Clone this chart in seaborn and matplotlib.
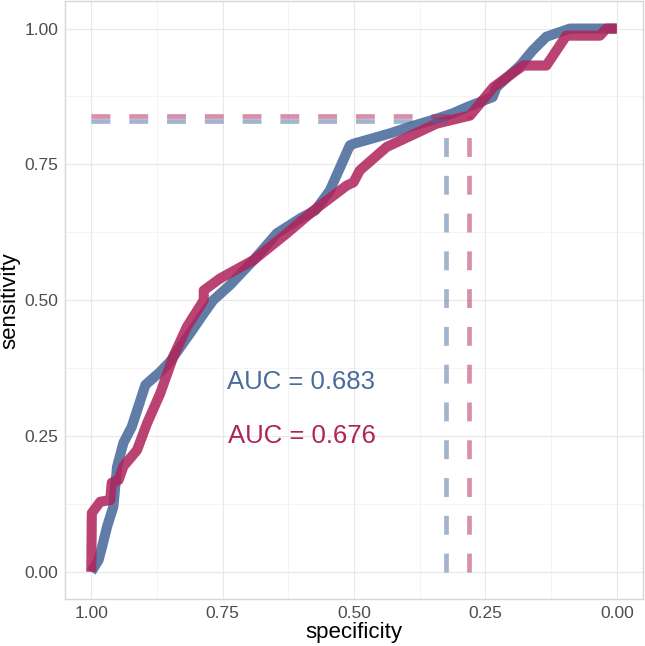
import matplotlib
matplotlib.use("Agg")
import matplotlib.pyplot as plt
import seaborn as sns
import pandas as pd

# ROC curve points (specificity, sensitivity)
spec_a = [1.000, 0.986, 0.980, 0.970, 0.958, 0.951, 0.939, 0.923, 0.897, 0.869, 0.850,
          0.812, 0.785, 0.768, 0.736, 0.690, 0.647, 0.600, 0.574, 0.546, 0.508, 0.501,
          0.479, 0.432, 0.394, 0.343, 0.312, 0.286, 0.260, 0.236, 0.229, 0.184, 0.160,
          0.134, 0.089, 0.000]
sens_a = [0.000, 0.022, 0.044, 0.083, 0.120, 0.193, 0.237, 0.267, 0.344, 0.368, 0.387,
          0.439, 0.477, 0.500, 0.528, 0.575, 0.623, 0.652, 0.665, 0.702, 0.785, 0.788,
          0.794, 0.807, 0.819, 0.834, 0.844, 0.855, 0.865, 0.874, 0.892, 0.932, 0.960,
          0.985, 1.000, 1.000]
spec_b = [1.000, 0.999, 0.983, 0.964, 0.961, 0.948, 0.939, 0.913, 0.894, 0.869, 0.844,
          0.818, 0.786, 0.786, 0.755, 0.691, 0.628, 0.577, 0.514, 0.501, 0.489, 0.438,
          0.343, 0.279, 0.235, 0.178, 0.134, 0.096, 0.032, 0.020, 0.000]
sens_b = [0.000, 0.108, 0.129, 0.132, 0.164, 0.169, 0.194, 0.224, 0.273, 0.328, 0.396,
          0.451, 0.500, 0.518, 0.540, 0.574, 0.623, 0.665, 0.711, 0.717, 0.739, 0.782,
          0.825, 0.840, 0.892, 0.932, 0.932, 0.987, 0.987, 1.000, 1.000]

# best thresholds (specificity, sensitivity) and AUC labels
best_a = (0.325, 0.830)
best_b = (0.282, 0.839)
auc_labels = ["AUC = 0.683", "AUC = 0.676"]

col_a = "#4A6B9C"
col_b = "#B0225A"

df_a = pd.DataFrame({"specificity": spec_a, "sensitivity": sens_a})
df_b = pd.DataFrame({"specificity": spec_b, "sensitivity": sens_b})

sns.set_style("whitegrid")
plt.rcParams['font.family'] = ['Liberation Sans', 'DejaVu Sans']
fig = plt.figure(figsize=(6.45, 6.46), dpi=100)
ax = fig.add_axes([0.1008, 0.0728, 0.8962, 0.925])

sns.lineplot(data=df_a, x="specificity", y="sensitivity", sort=False, estimator=None,
             color=col_a, linewidth=7.3, alpha=0.88, ax=ax, solid_capstyle="butt")
sns.lineplot(data=df_b, x="specificity", y="sensitivity", sort=False, estimator=None,
             color=col_b, linewidth=7.3, alpha=0.85, ax=ax, solid_capstyle="butt")

# dashed guide lines to the chosen thresholds
for (sx, sy), c in [(best_a, col_a), (best_b, col_b)]:
    ax.plot([1.0, sx], [sy, sy], color=c, alpha=0.5, linewidth=3.4,
            dashes=(4, 4), dash_capstyle="butt")
    ax.plot([sx, sx], [0.0, sy], color=c, alpha=0.5, linewidth=3.4,
            dashes=(4, 4), dash_capstyle="butt")

ax.text(0.6, 0.35, auc_labels[0], color=col_a, fontsize=18.5, ha="center", va="center")
ax.text(0.6, 0.25, auc_labels[1], color=col_b, fontsize=18.5, ha="center", va="center")

ax.set_xlim(1.05, -0.05)
ax.set_ylim(-0.05, 1.05)
ticks = [0, 0.25, 0.5, 0.75, 1.0]
ax.set_xticks(ticks)
ax.set_yticks(ticks)
ax.set_xticklabels(["0.00", "0.25", "0.50", "0.75", "1.00"])
ax.set_yticklabels(["0.00", "0.25", "0.50", "0.75", "1.00"])
ax.set_xticks([0.125, 0.375, 0.625, 0.875], minor=True)
ax.set_yticks([0.125, 0.375, 0.625, 0.875], minor=True)
ax.grid(which="major", color="#E8E8E8", linewidth=0.8)
ax.grid(which="minor", color="#F2F2F2", linewidth=0.6)
ax.tick_params(axis="both", which="major", labelsize=12.5, labelcolor="#4D4D4D",
               length=3, width=0.8, color="#CCCCCC", pad=2)
ax.tick_params(axis="both", which="minor", length=0)
for s in ax.spines.values():
    s.set_color("#D6D6D6")
    s.set_linewidth(1.0)
ax.set_xlabel("specificity", fontsize=16, color="black", labelpad=1)
ax.set_ylabel("sensitivity", fontsize=16, color="black", labelpad=3)

fig.savefig("out.png", dpi=100)
